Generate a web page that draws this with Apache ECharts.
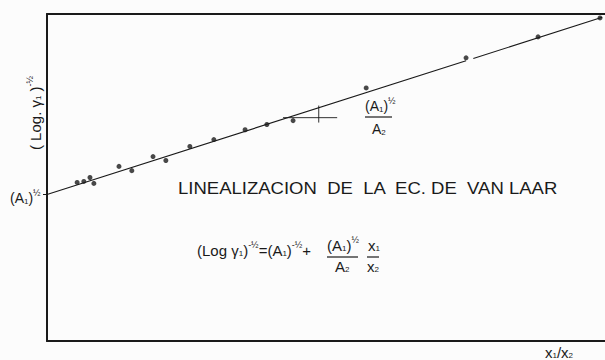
<!DOCTYPE html>
<html><head><meta charset="utf-8">
<script src="https://cdn.jsdelivr.net/npm/echarts@6/dist/echarts.min.js"></script>
<style>html,body{margin:0;padding:0;background:#fcfcfc}#c{width:605px;height:360px}</style>
</head><body><div id="c"></div>
<script>
// measured points: x1/x2 (arbitrary units), (Log γ1)^-1/2 (arbitrary units)
const pointX = [0.54,0.66,0.77,0.84,1.29,1.52,1.90,2.13,2.56,2.99,3.55,3.94,4.41,5.72,7.51,8.80,9.91];
const pointY = [4.85,4.88,5.00,4.82,5.34,5.21,5.64,5.52,5.95,6.16,6.46,6.62,6.74,7.74,8.66,9.30,9.88];
// fitted straight line (drawn with a small break as in the original)
const lineX = [0, 7.51, null, 7.64, 9.95];
const lineY = [4.48, 8.57, null, 8.64, 9.90];
// slope construction
const tanHX = [4.23, 5.20], tanHY = [6.83, 6.83];
const tanVX = [4.87, 4.87], tanVY = [7.20, 6.68];
const intercept = 4.48;

const zip = (a,b) => a.map((v,i) => (v === null ? [null,null] : [v,b[i]]));
const F = 'Liberation Sans, Arial, sans-serif';
const ink = '#1a1a1a';

const sup = {fontSize: 9, padding: [0,0,11,0], fontFamily: F, color: ink};
const sub = {fontSize: 8, padding: [7,0,0,0], fontFamily: F, color: ink};

function txt(x, y, text, size, opts) {
  return Object.assign({type: 'text', x: x, y: y, style: {
    text: text, verticalAlign: 'middle', font: size + 'px ' + F, fill: ink,
    rich: {sb: sub, sp: sup}}}, opts || {});
}
function bar(x1, x2, y) {
  return {type: 'line', shape: {x1: x1, y1: y, x2: x2, y2: y}, style: {stroke: ink, lineWidth: 1.2}};
}

const chart = echarts.init(document.getElementById('c'), null, {renderer: 'svg'});
chart.setOption({
  backgroundColor: '#fcfcfc',
  animation: false,
  grid: {left: 47, right: 0, top: 14, bottom: 19},
  xAxis: [
    {type: 'value', min: 0, max: 10, axisLine: {show: true, lineStyle: {color: ink, width: 2}},
     axisTick: {show: false}, axisLabel: {show: false}, splitLine: {show: false}},
    {type: 'value', position: 'top', min: 0, max: 10, axisLine: {show: true, lineStyle: {color: ink, width: 2}},
     axisTick: {show: false}, axisLabel: {show: false}, splitLine: {show: false}}
  ],
  yAxis: {type: 'value', min: 0, max: 10,
    axisLine: {show: true, lineStyle: {color: ink, width: 2}},
    axisTick: {show: true, customValues: [intercept], length: 4, lineStyle: {color: ink, width: 1}},
    axisLabel: {show: false}, splitLine: {show: false}},
  series: [
    {type: 'line', data: zip(lineX, lineY), showSymbol: false, connectNulls: false,
     lineStyle: {color: ink, width: 1.1}, silent: true},
    {type: 'line', data: zip(tanHX, tanHY), showSymbol: false, lineStyle: {color: ink, width: 0.9}},
    {type: 'line', data: zip(tanVX, tanVY), showSymbol: false, lineStyle: {color: ink, width: 0.9}},
    {type: 'scatter', data: zip(pointX, pointY), symbolSize: 5, itemStyle: {color: ink}}
  ],
  graphic: [
    {type: 'text', x: 35, y: 113, rotation: Math.PI/2, style: {
      text: '( Log. γ{sb|1} ){sp|-½}', align: 'center', verticalAlign: 'middle',
      font: '15px ' + F, fill: ink, rich: {sb: sub, sp: sup}}},
    txt(10, 198, '(A{sb|1}){sp|½}', 14),
    txt(178, 188, 'LINEALIZACION  DE  LA  EC. DE  VAN LAAR', 17, {scaleX: 1.09, originX: 0}),
    // slope annotation near the line
    txt(365, 106, '(A{sb|1}){sp|½}', 14),
    bar(365, 392, 117),
    txt(372, 129, 'A{sb|2}', 14),
    // equation
    txt(197, 250, '(Log γ{sb|1}){sp|-½}=(A{sb|1}){sp|-½}+', 15),
    txt(327, 245, '(A{sb|1}){sp|½}', 15),
    txt(368, 245, 'x{sb|1}', 15),
    bar(327, 358, 257),
    bar(367, 379, 257),
    txt(335, 266, 'A{sb|2}', 15),
    txt(367, 266, 'x{sb|2}', 15),
    txt(545, 352, 'x{sb|1}/x{sb|2}', 15)
  ]
});
</script></body></html>
